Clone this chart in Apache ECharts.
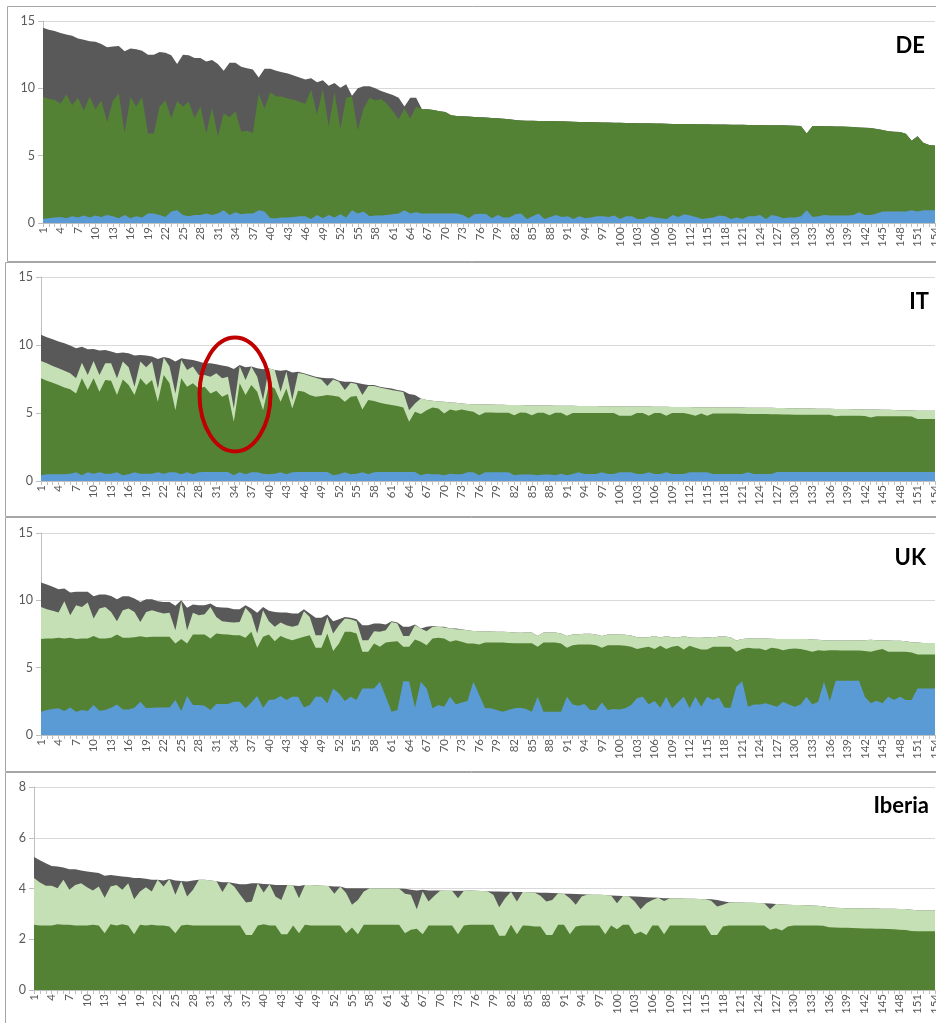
<!DOCTYPE html>
<html>
<head>
<meta charset="utf-8">
<script src="https://cdn.jsdelivr.net/npm/echarts@6/dist/echarts.min.js"></script>
<style>
html,body{margin:0;padding:0;background:#fff;overflow:hidden;}
#chart{width:936px;height:1023px;}
</style>
</head>
<body>
<div id="chart"></div>
<script>
// categories 1..154
const categories = Array.from({length:154}, (_, i) => String(i + 1));

// ---- DE (band top levels) ----
const deTotal = [
14.5,14.35,14.25,14.1,14.0,13.9,13.7,13.6,13.5,13.45,
13.3,13.05,13.1,13.15,12.75,12.95,12.9,12.8,12.5,12.5,
12.7,12.65,12.45,11.8,12.5,12.45,12.25,12.25,12.0,12.1,
11.8,11.3,11.9,11.9,11.6,11.5,11.4,10.8,11.45,11.45,
11.3,11.2,11.1,10.95,10.8,10.65,10.75,10.45,10.6,10.2,
10.4,10.05,10.3,9.45,10.0,10.15,10.15,10.0,9.8,9.65,
9.5,9.3,8.65,9.3,9.3,8.45,8.45,8.4,8.3,8.25,
8.0,7.95,7.93,7.9,
7.88,7.85,7.83,7.8,7.78,7.75,7.7,7.65,7.62,7.6,
7.6,7.58,7.57,7.57,7.56,7.55,7.53,7.52,7.5,7.5,
7.5,7.48,7.47,7.46,7.45,7.45,7.43,7.42,7.41,7.4,
7.4,7.39,7.38,7.37,7.36,7.36,7.35,7.35,7.34,7.33,
7.33,7.32,7.32,7.31,7.3,7.3,7.3,7.28,7.27,7.27,
7.26,7.26,7.25,7.25,7.24,7.22,7.2,6.65,7.2,7.2,
7.19,7.18,7.17,7.16,7.15,7.13,7.1,7.08,7.05,6.98,
6.9,6.82,6.77,6.75,6.62,6.1,6.45,5.95,5.8,5.75];
const deGreen = [
9.35,9.2,9.15,8.85,9.55,8.75,9.3,8.35,9.4,8.45,
9.1,7.5,9.1,9.6,6.7,9.35,8.65,9.35,6.65,6.65,
8.65,9.1,7.8,9.05,8.65,9.0,7.8,8.65,6.65,8.55,
6.45,8.15,7.85,8.3,6.8,6.85,6.7,9.6,8.5,9.7,
9.4,9.4,9.25,9.15,9.0,8.85,9.9,8.05,9.95,7.15,
9.7,7.0,9.3,9.4,6.9,8.5,9.3,9.1,9.2,8.85,
8.3,7.7,8.5,7.75,8.65,8.45,8.45,8.4,8.3,8.25,
8.0,7.95,7.93,7.9,
7.88,7.85,7.83,7.8,7.78,7.75,7.7,7.65,7.62,7.6,
7.6,7.58,7.57,7.57,7.56,7.55,7.53,7.52,7.5,7.5,
7.5,7.48,7.47,7.46,7.45,7.45,7.43,7.42,7.41,7.4,
7.4,7.39,7.38,7.37,7.36,7.36,7.35,7.35,7.34,7.33,
7.33,7.32,7.32,7.31,7.3,7.3,7.3,7.28,7.27,7.27,
7.26,7.26,7.25,7.25,7.24,7.22,7.2,6.65,7.2,7.2,
7.19,7.18,7.17,7.16,7.15,7.13,7.1,7.08,7.05,6.98,
6.9,6.82,6.77,6.75,6.62,6.1,6.45,5.95,5.8,5.75];
const deBlue = [
0.3,0.35,0.4,0.45,0.35,0.5,0.4,0.55,0.4,0.55,
0.45,0.6,0.5,0.35,0.6,0.35,0.5,0.4,0.7,0.7,
0.6,0.45,0.85,0.95,0.6,0.5,0.6,0.6,0.7,0.6,
0.7,0.95,0.6,0.8,0.65,0.7,0.7,0.95,0.85,0.35,
0.35,0.4,0.4,0.45,0.5,0.5,0.3,0.6,0.35,0.6,
0.4,0.65,0.4,0.95,0.7,0.85,0.5,0.55,0.55,0.6,
0.65,0.7,0.95,0.7,0.8,0.7,0.7,0.7,0.7,0.7,
0.7,0.7,0.6,0.35,
0.65,0.68,0.66,0.35,0.6,0.4,0.4,0.65,0.7,0.3,
0.5,0.7,0.3,0.45,0.6,0.45,0.5,0.3,0.5,0.35,
0.4,0.5,0.5,0.45,0.55,0.3,0.5,0.5,0.3,0.3,
0.5,0.4,0.35,0.3,0.6,0.45,0.65,0.55,0.45,0.3,
0.35,0.4,0.55,0.5,0.3,0.4,0.3,0.5,0.5,0.6,
0.3,0.6,0.5,0.35,0.4,0.4,0.5,0.95,0.45,0.5,
0.6,0.55,0.55,0.55,0.55,0.6,0.8,0.6,0.6,0.7,
0.85,0.85,0.85,0.85,0.85,0.95,0.85,0.95,0.95,0.95];

// ---- IT ----
const itTotal = [
10.75,10.57,10.43,10.25,10.13,9.96,9.76,9.88,9.69,9.71,
9.59,9.64,9.52,9.39,9.44,9.39,9.22,9.27,9.22,9.15,
8.97,9.12,9.02,8.78,9.02,8.95,8.9,8.78,8.65,8.65,
8.58,8.5,8.41,8.24,8.53,8.36,8.41,8.29,8.21,8.29,
8.16,8.11,8.16,7.97,8.04,7.92,7.8,7.67,7.6,7.55,
7.55,7.38,7.3,7.3,7.23,7.13,7.06,7.06,6.93,6.86,
6.81,6.69,6.61,6.39,6.32,6.07,5.95,5.9,5.85,5.83,
5.78,5.75,5.7,5.66,
5.65,5.64,5.63,5.62,5.61,5.6,5.59,5.58,5.58,5.57,
5.56,5.56,5.55,5.55,5.54,5.54,5.53,5.53,5.52,5.52,
5.51,5.51,5.5,5.5,5.49,5.49,5.48,5.48,5.47,5.47,
5.47,5.46,5.46,5.46,5.45,5.45,5.44,5.44,5.43,5.43,
5.42,5.42,5.41,5.41,5.4,5.4,5.4,5.39,5.39,5.39,
5.39,5.38,5.37,5.36,5.35,5.35,5.34,5.34,5.33,5.32,
5.32,5.31,5.3,5.3,5.29,5.28,5.27,5.26,5.26,5.25,
5.24,5.23,5.22,5.21,5.2,5.19,5.17,5.16,5.16,5.16];
const itLight = [
8.83,8.65,8.46,8.29,8.11,7.92,7.55,8.7,7.8,8.83,
7.8,8.65,8.65,7.55,8.78,8.36,6.93,8.78,8.36,8.78,
6.81,9.08,8.41,6.44,8.9,8.16,8.41,7.8,7.8,7.67,
7.92,7.55,7.67,5.34,8.46,7.43,8.41,7.67,5.95,8.29,
8.16,6.56,8.06,5.95,7.94,7.87,7.72,7.6,7.47,6.98,
7.47,7.3,6.69,7.23,7.13,6.32,6.98,6.98,6.88,6.79,
6.69,6.61,6.54,5.21,5.7,6.07,5.95,5.9,5.85,5.83,
5.78,5.75,5.7,5.66,
5.65,5.64,5.63,5.62,5.61,5.6,5.59,5.58,5.58,5.57,
5.56,5.56,5.55,5.55,5.54,5.54,5.53,5.53,5.52,5.52,
5.51,5.51,5.5,5.5,5.49,5.49,5.48,5.48,5.47,5.47,
5.47,5.46,5.46,5.46,5.45,5.45,5.44,5.44,5.43,5.43,
5.42,5.42,5.41,5.41,5.4,5.4,5.4,5.39,5.39,5.39,
5.39,5.38,5.37,5.36,5.35,5.35,5.34,5.34,5.33,5.32,
5.32,5.31,5.3,5.3,5.29,5.28,5.27,5.26,5.26,5.25,
5.24,5.23,5.22,5.21,5.2,5.19,5.17,5.16,5.16,5.16];
const itGreen = [
7.55,7.38,7.23,7.06,6.88,6.74,6.44,7.55,6.69,7.55,
6.56,7.43,7.38,6.32,7.47,7.06,6.32,7.55,7.06,7.43,
5.83,7.8,7.18,5.21,7.55,6.93,7.18,6.81,6.93,6.44,
6.64,6.2,6.39,4.35,7.18,6.32,7.06,6.56,5.21,7.06,
6.81,5.83,6.81,5.34,6.64,6.56,6.32,6.2,6.25,6.32,
6.27,6.2,5.83,6.2,6.25,5.26,5.95,5.88,5.75,5.66,
5.58,5.51,5.41,4.35,5.09,4.92,5.21,5.41,5.34,4.97,
5.26,5.16,5.26,5.16,
5.09,4.84,5.04,5.04,5.02,5.02,5.02,4.84,5.04,5.02,
4.84,5.02,5.02,4.84,5.02,5.02,4.79,5.0,5.0,5.0,
5.0,5.0,5.0,5.0,5.0,4.8,4.8,4.8,5.0,5.0,
4.8,5.0,5.0,4.8,5.0,5.0,5.0,4.9,4.8,4.97,
4.8,4.97,4.97,4.97,4.97,4.97,4.95,4.93,4.92,4.92,
4.92,4.9,4.9,4.89,4.89,4.88,4.88,4.88,4.88,4.87,
4.87,4.87,4.77,4.79,4.79,4.79,4.79,4.78,4.66,4.77,
4.77,4.77,4.77,4.77,4.77,4.75,4.56,4.55,4.55,4.55];
const itBlue = [
0.42,0.49,0.49,0.49,0.49,0.54,0.64,0.42,0.64,0.54,
0.64,0.54,0.54,0.64,0.42,0.49,0.64,0.54,0.54,0.54,
0.64,0.54,0.64,0.64,0.49,0.64,0.49,0.64,0.66,0.66,
0.66,0.66,0.66,0.42,0.64,0.49,0.64,0.64,0.54,0.49,
0.54,0.64,0.49,0.64,0.66,0.66,0.66,0.66,0.66,0.66,
0.42,0.49,0.64,0.49,0.54,0.64,0.49,0.64,0.66,0.66,
0.66,0.66,0.66,0.66,0.66,0.42,0.54,0.49,0.49,0.42,
0.54,0.49,0.49,0.64,
0.64,0.42,0.64,0.64,0.64,0.64,0.64,0.42,0.47,0.47,
0.47,0.42,0.47,0.47,0.42,0.54,0.42,0.52,0.64,0.52,
0.52,0.52,0.64,0.52,0.52,0.64,0.64,0.64,0.52,0.52,
0.64,0.52,0.52,0.64,0.52,0.52,0.52,0.64,0.64,0.64,
0.64,0.52,0.52,0.52,0.52,0.52,0.52,0.64,0.52,0.52,
0.52,0.52,0.66,0.66,0.66,0.66,0.66,0.66,0.66,0.66,
0.66,0.66,0.66,0.66,0.66,0.66,0.66,0.66,0.66,0.66,
0.66,0.66,0.66,0.66,0.66,0.66,0.66,0.66,0.66,0.66];

// ---- UK ----
const ukTotal = [
11.32,11.17,11.0,10.82,10.87,10.58,10.63,10.63,10.63,10.3,
10.43,10.43,10.33,10.08,10.3,10.3,10.13,9.88,10.08,10.08,
9.93,9.88,9.88,9.59,10.01,9.44,9.69,9.64,9.64,9.76,
9.51,9.46,9.44,9.34,9.34,9.64,9.39,9.07,9.51,9.22,
9.14,9.09,9.09,9.02,9.02,9.34,9.02,8.7,8.7,8.94,
8.45,8.6,8.77,8.7,8.6,8.15,8.15,8.28,8.28,8.2,
8.45,8.35,8.03,8.03,8.2,7.91,8.03,8.1,8.03,8.03,
7.91,7.91,7.86,7.78,
7.73,7.71,7.71,7.68,7.66,7.66,7.64,7.61,7.59,7.61,
7.61,7.36,7.61,7.61,7.61,7.54,7.36,7.46,7.49,7.51,
7.51,7.46,7.36,7.46,7.46,7.46,7.44,7.39,7.26,7.24,
7.26,7.36,7.24,7.36,7.26,7.22,7.36,7.24,7.22,7.22,
7.26,7.22,7.31,7.31,7.26,7.02,7.12,7.17,7.17,7.17,
7.17,7.14,7.12,7.12,7.12,7.12,7.12,7.12,7.09,7.07,
7.04,7.02,7.02,7.02,7.02,7.02,7.02,7.04,7.07,7.04,
7.04,7.02,6.99,6.99,6.97,6.89,6.87,6.84,6.84,6.84];
const ukLight = [
9.51,9.34,9.22,9.09,9.93,8.9,9.64,9.51,9.83,8.65,
9.39,9.51,9.14,8.45,9.27,9.39,9.14,8.4,9.14,9.27,
9.14,9.02,9.07,7.78,9.93,7.78,9.07,8.9,8.97,9.51,
8.77,8.45,8.4,8.35,8.4,9.44,8.94,7.54,9.27,8.45,
8.03,8.35,8.15,8.03,8.15,9.19,8.77,7.41,7.41,8.77,
7.54,8.15,8.65,8.6,8.45,7.04,7.04,7.71,7.66,7.78,
8.4,8.28,7.36,7.36,8.15,7.91,7.7,8.03,8.03,7.98,
7.91,7.86,7.83,7.78,
7.73,7.71,7.71,7.68,7.66,7.66,7.64,7.61,7.59,7.61,
7.61,7.36,7.61,7.61,7.61,7.54,7.36,7.46,7.49,7.51,
7.51,7.46,7.36,7.46,7.46,7.46,7.44,7.39,7.26,7.24,
7.26,7.36,7.24,7.36,7.26,7.22,7.36,7.24,7.22,7.22,
7.26,7.22,7.31,7.31,7.26,7.02,7.12,7.17,7.17,7.17,
7.17,7.14,7.12,7.12,7.12,7.12,7.12,7.12,7.09,7.07,
7.04,7.02,7.02,7.02,7.02,7.02,7.02,7.04,7.07,7.04,
7.04,7.02,6.99,6.99,6.97,6.89,6.87,6.84,6.84,6.84];
const ukGreen = [
7.12,7.17,7.17,7.22,7.17,7.22,7.12,7.17,7.17,7.36,
7.17,7.17,7.22,7.46,7.22,7.22,7.26,7.34,7.26,7.29,
7.29,7.29,7.29,6.8,7.12,6.8,7.46,7.46,7.46,7.17,
7.54,7.49,7.46,7.41,7.41,7.22,7.66,6.47,7.29,7.46,
6.97,7.36,7.17,7.04,7.17,7.29,7.41,6.47,6.47,7.54,
6.23,6.8,7.66,7.66,7.54,6.18,6.18,6.8,6.55,6.87,
6.92,6.97,6.55,6.55,7.09,6.92,6.67,7.17,7.22,7.17,
6.92,7.04,6.92,6.8,
6.8,6.72,6.87,6.87,6.87,6.87,6.84,6.82,6.82,6.82,
6.82,6.55,6.87,6.87,6.87,6.8,6.47,6.67,6.72,6.72,
6.72,6.67,6.47,6.67,6.67,6.67,6.62,6.55,6.38,6.47,
6.55,6.38,6.62,6.38,6.55,6.62,6.35,6.62,6.47,6.35,
6.35,6.55,6.55,6.55,6.55,6.18,6.38,6.47,6.42,6.42,
6.3,6.47,6.42,6.3,6.38,6.42,6.38,6.3,6.18,6.3,
6.25,6.3,6.3,6.28,6.28,6.28,6.28,6.23,6.18,6.3,
6.38,6.18,6.18,6.18,6.18,6.13,5.98,5.98,5.98,5.98];
const ukBlue = [
1.73,1.85,1.93,1.98,1.78,2.05,1.73,1.85,1.78,2.22,
1.8,1.85,2.03,2.27,1.9,1.9,2.03,2.47,1.98,2.03,
2.05,2.05,2.05,2.59,1.78,2.89,2.22,2.22,2.17,1.85,
2.3,2.3,2.3,2.47,2.47,1.98,2.42,2.89,2.03,2.59,
2.64,2.89,2.59,2.84,2.84,2.05,2.22,2.84,2.84,2.35,
3.46,3.09,2.52,2.84,2.59,3.46,3.46,3.46,3.95,2.84,
1.73,1.85,4.0,4.0,2.03,3.95,3.46,1.98,2.22,2.1,
2.84,2.27,2.42,2.52,
3.95,2.97,1.98,1.98,1.85,1.73,1.85,1.98,2.03,1.93,
1.73,2.84,1.73,1.73,1.73,1.73,2.84,2.27,2.17,2.3,
1.85,1.85,2.42,1.85,1.93,1.9,1.98,2.22,2.72,2.84,
2.27,2.52,2.03,2.84,1.98,2.42,2.84,1.98,2.84,2.1,
2.84,2.59,2.79,2.03,2.03,3.58,4.0,2.1,2.27,2.27,
2.35,2.22,2.1,2.47,2.27,2.1,2.27,2.84,2.27,2.47,
3.95,2.52,4.03,4.03,4.03,4.03,4.03,2.84,2.35,2.55,
2.35,2.84,2.59,2.84,2.59,2.59,3.46,3.46,3.46,3.46];

// ---- Iberia ----
const ibTotal = [
5.24,5.11,5.0,4.89,4.87,4.83,4.76,4.76,4.71,4.67,
4.64,4.61,4.5,4.53,4.5,4.47,4.45,4.41,4.41,4.38,
4.34,4.34,4.32,4.37,4.32,4.3,4.28,4.32,4.34,4.34,
4.32,4.29,4.25,4.25,4.21,4.17,4.17,4.21,4.21,4.18,
4.17,4.14,4.14,4.14,4.12,4.1,4.14,4.14,4.12,4.11,
4.1,4.08,4.08,4.01,4.01,4.01,4.01,4.01,4.0,4.0,
4.0,4.0,4.0,3.99,3.95,3.92,3.95,3.92,3.92,3.92,
3.91,3.91,3.91,3.91,
3.92,3.91,3.9,3.89,3.88,3.88,3.87,3.87,3.86,3.86,
3.85,3.84,3.83,3.83,3.82,3.81,3.79,3.79,3.78,3.77,
3.76,3.75,3.75,3.74,3.72,3.71,3.7,3.69,3.68,3.67,
3.66,3.65,3.64,3.62,3.62,3.61,3.61,3.6,3.6,3.59,
3.58,3.58,3.55,3.5,3.46,3.45,3.45,3.44,3.44,3.43,
3.42,3.41,3.39,3.37,3.36,3.35,3.35,3.34,3.33,3.32,
3.3,3.26,3.24,3.23,3.22,3.22,3.22,3.21,3.21,3.21,
3.2,3.2,3.2,3.19,3.19,3.16,3.14,3.13,3.13,3.13];
const ibLight = [
4.41,4.24,4.11,4.11,4.01,4.34,3.95,4.14,4.21,4.05,
3.92,4.08,3.64,4.08,4.14,3.95,4.21,3.58,3.88,4.05,
3.88,4.34,4.08,4.37,3.75,4.3,3.68,3.95,4.34,4.34,
4.32,4.29,3.86,4.25,4.08,3.75,3.45,3.49,4.21,3.84,
4.17,3.68,3.55,4.14,4.12,3.62,4.14,4.14,4.12,4.11,
4.1,3.79,4.08,3.82,3.36,3.55,3.88,4.01,4.0,4.0,
4.0,4.0,4.0,3.79,3.75,3.18,3.88,3.49,3.71,3.92,
3.91,3.91,3.62,3.91,
3.92,3.91,3.9,3.89,3.75,3.26,3.62,3.87,3.49,3.86,
3.85,3.84,3.71,3.49,3.55,3.81,3.79,3.62,3.36,3.68,
3.76,3.75,3.75,3.74,3.72,3.42,3.7,3.69,3.49,3.18,
3.42,3.55,3.64,3.51,3.62,3.61,3.61,3.6,3.6,3.59,
3.58,3.52,3.29,3.36,3.45,3.45,3.45,3.44,3.44,3.43,
3.42,3.18,3.39,3.37,3.36,3.35,3.35,3.34,3.33,3.32,
3.3,3.26,3.24,3.23,3.22,3.22,3.22,3.21,3.21,3.21,
3.2,3.2,3.2,3.19,3.19,3.16,3.14,3.13,3.13,3.13];
const ibGreen = [
2.57,2.54,2.54,2.54,2.59,2.57,2.57,2.54,2.54,2.54,
2.57,2.54,2.24,2.59,2.54,2.59,2.54,2.2,2.57,2.54,
2.57,2.54,2.54,2.5,2.24,2.54,2.57,2.54,2.54,2.54,
2.54,2.54,2.54,2.54,2.54,2.54,2.17,2.17,2.54,2.59,
2.54,2.54,2.2,2.2,2.54,2.24,2.57,2.54,2.54,2.54,
2.54,2.54,2.54,2.24,2.46,2.2,2.57,2.57,2.57,2.57,
2.57,2.57,2.57,2.24,2.37,2.41,2.2,2.54,2.54,2.54,
2.54,2.54,2.2,2.54,
2.57,2.57,2.57,2.57,2.57,2.14,2.14,2.57,2.2,2.54,
2.53,2.5,2.5,2.17,2.17,2.57,2.57,2.2,2.5,2.54,
2.54,2.54,2.54,2.2,2.54,2.39,2.57,2.57,2.2,2.3,
2.17,2.54,2.54,2.2,2.54,2.54,2.54,2.54,2.54,2.54,
2.54,2.17,2.17,2.5,2.54,2.54,2.54,2.54,2.54,2.54,
2.54,2.37,2.43,2.34,2.5,2.54,2.54,2.54,2.54,2.54,
2.53,2.47,2.46,2.45,2.45,2.44,2.43,2.42,2.42,2.41,
2.41,2.4,2.39,2.37,2.36,2.33,2.32,2.32,2.32,2.32];

const C_GRAY = '#595959', C_LIGHT = '#c5e0b4', C_GREEN = '#548235', C_BLUE = '#5b9bd5';

const panels = [
  {name:'DE', grid:{left:43, top:21, height:202}, max:15, iv:5,
   layers:[[deTotal,C_GRAY],[deGreen,C_GREEN],[deBlue,C_BLUE]],
   title:{x:925, y:46}, frame:[7.5, 6.5, 1000, 255]},
  {name:'IT', grid:{left:41, top:277, height:204}, max:15, iv:5,
   layers:[[itTotal,C_GRAY],[itLight,C_LIGHT],[itGreen,C_GREEN],[itBlue,C_BLUE]],
   title:{x:929, y:302}, frame:[5.5, 262.5, 1000, 254]},
  {name:'UK', grid:{left:41, top:533, height:202}, max:15, iv:5,
   layers:[[ukTotal,C_GRAY],[ukLight,C_LIGHT],[ukGreen,C_GREEN],[ukBlue,C_BLUE]],
   title:{x:926, y:558}, frame:[5.5, 517.5, 1000, 254]},
  {name:'Iberia', grid:{left:34, top:787, height:203}, max:8, iv:2,
   layers:[[ibTotal,C_GRAY],[ibLight,C_LIGHT],[ibGreen,C_GREEN]],
   title:{x:929, y:806}, frame:[5.5, 772.5, 1000, 300]}
];

const FONT = 'Lato, "Liberation Sans", sans-serif';
const grid = [], xAxis = [], yAxis = [], series = [], graphic = [];

panels.forEach((p, k) => {
  grid.push({left:p.grid.left, top:p.grid.top, height:p.grid.height, right:1,
    containLabel:false, outerBoundsMode:'none'});
  xAxis.push({
    type:'category', gridIndex:k, data:categories, boundaryGap:false,
    axisLine:{show:true, lineStyle:{color:'#bfbfbf', width:1}},
    axisTick:{show:true, interval:0, length:4, lineStyle:{color:'#bfbfbf'}},
    axisLabel:{interval:2, rotate:90, fontSize:11.5, color:'#595959', margin:4, fontFamily:FONT,
      hideOverlap:false},
    splitLine:{show:false}
  });
  yAxis.push({
    type:'value', gridIndex:k, min:0, max:p.max, interval:p.iv,
    axisLine:{show:true, lineStyle:{color:'#bfbfbf'}},
    axisTick:{show:true, length:5, lineStyle:{color:'#bfbfbf'}},
    axisLabel:{fontSize:12.5, color:'#595959', margin:8, fontFamily:FONT},
    splitLine:{show:true, lineStyle:{color:'#d9d9d9', width:1}}
  });
  p.layers.forEach((ly, j) => {
    series.push({
      type:'line', xAxisIndex:k, yAxisIndex:k, data:ly[0],
      symbol:'none', silent:true, z:2 + j,
      lineStyle:{width:0, opacity:0},
      areaStyle:{color:ly[1], opacity:1}
    });
  });
  graphic.push({
    type:'rect', silent:true, z:0,
    shape:{x:p.frame[0], y:p.frame[1], width:p.frame[2], height:p.frame[3]},
    style:{fill:'none', stroke:'#a6a6a6', lineWidth:1}
  });
  graphic.push({
    type:'text', silent:true, z:100,
    style:{x:p.title.x, y:p.title.y, text:p.name, textAlign:'right', textVerticalAlign:'middle',
      font:'bold 22px ' + FONT, fill:'#000'}
  });
});

// red annotation ellipse (IT panel)
graphic.push({
  type:'ellipse', silent:true, z:100,
  shape:{cx:235, cy:394.5, rx:35.5, ry:57},
  style:{fill:'none', stroke:'#c00000', lineWidth:4}
});

const chart = echarts.init(document.getElementById('chart'), null, {renderer:'canvas'});
chart.setOption({
  animation:false,
  backgroundColor:'#fff',
  grid, xAxis, yAxis, series, graphic
});
</script>
</body>
</html>
